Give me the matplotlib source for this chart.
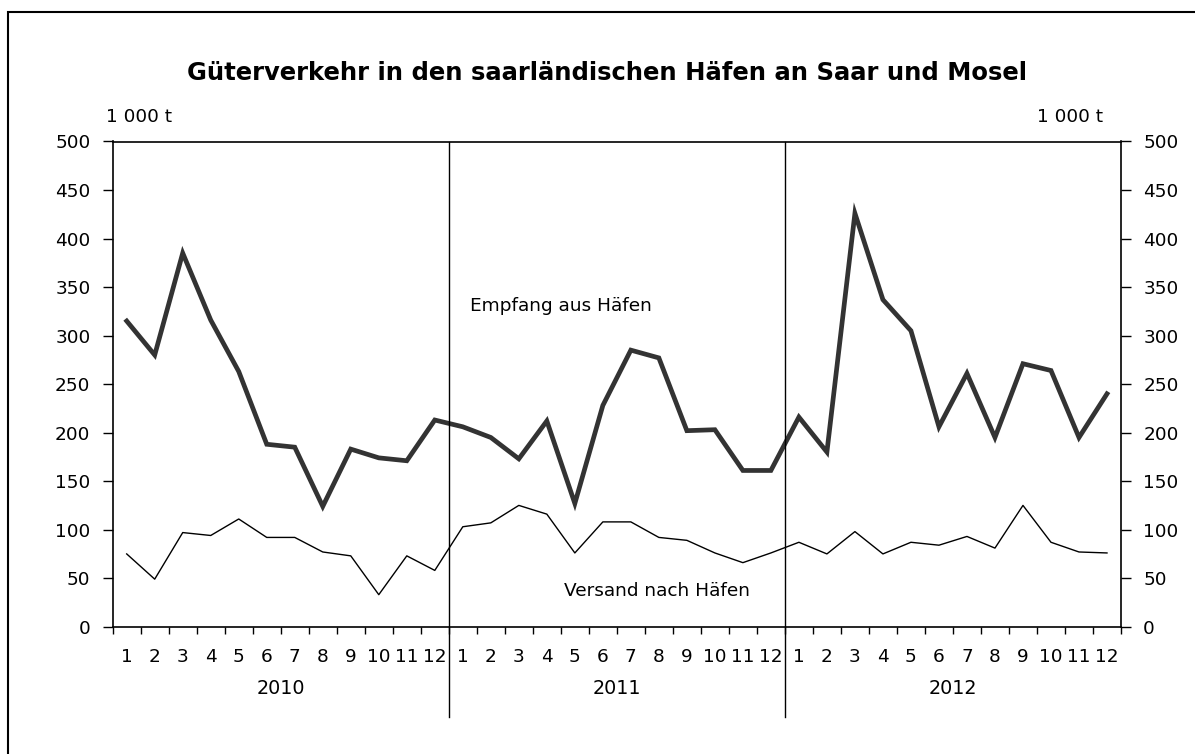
#!/usr/bin/env python
# Gueterverkehr in den saarlaendischen Haefen - monthly lines 2010-2012
import numpy as np
import matplotlib
matplotlib.use('Agg')
import matplotlib.pyplot as plt
from matplotlib.patches import Rectangle

plt.rcParams['font.family'] = ['DejaVu Sans']

years = ['2010', '2011', '2012']
months = [str(m) for m in range(1, 13)]
empfang = [315, 280, 385, 316, 263, 188, 185, 124, 183, 174, 171, 213,
           206, 195, 173, 212, 127, 228, 285, 277, 202, 203, 161, 161,
           216, 180, 426, 337, 305, 206, 261, 195, 271, 264, 195, 240]
versand = [75, 49, 97, 94, 111, 92, 92, 77, 73, 33, 73, 58,
           103, 107, 125, 116, 76, 108, 108, 92, 89, 76, 66, 76,
           87, 75, 98, 75, 87, 84, 93, 81, 125, 87, 77, 76]

W, H = 1195, 754
fs = 13.3
fig = plt.figure(figsize=(W / 100, H / 100), dpi=100)
ax = fig.add_axes([112.7 / W, 1 - 626.7 / H, (1121 - 112.7) / W, (626.7 - 141.5) / H])

x = np.arange(len(empfang)) + 0.5
ax.plot(x, empfang, color='#333333', lw=3.4, solid_joinstyle='miter')
ax.plot(x, versand, color='black', lw=1.0)

ax.set_xlim(0, 36)
ax.set_ylim(0, 500)
ax.set_yticks(np.arange(0, 501, 50))
ax.tick_params(axis='y', left=True, right=True, labelleft=True, labelright=True,
               length=7, width=1, pad=9, labelsize=fs)
# month labels as major ticks (no tick mark), boundaries as minor ticks
ax.set_xticks(x)
ax.set_xticklabels(months * 3)
ax.set_xticks(np.arange(0, 37), minor=True)
ax.tick_params(axis='x', which='major', length=0, pad=15, labelsize=fs)
ax.tick_params(axis='x', which='minor', length=5, width=1)
for s in ax.spines.values():
    s.set_linewidth(1.2)

ax_h = 626.7 - 141.5
for k, yr in enumerate(years):
    ax.text(12 * k + 6, -(689 - 626.7) / ax_h, yr, transform=ax.get_xaxis_transform(),
            ha='center', va='center', fontsize=fs + 0.5)
for xb in (12, 24):
    ax.plot([xb, xb], [1, -(716.7 - 626.7) / ax_h], transform=ax.get_xaxis_transform(),
            color='black', lw=1, clip_on=False)

ax.text(470 / W, 1 - 306 / H, 'Empfang aus Häfen', transform=fig.transFigure,
        ha='left', va='center', fontsize=fs)
ax.text(564 / W, 1 - 591 / H, 'Versand nach Häfen', transform=fig.transFigure,
        ha='left', va='center', fontsize=fs)

fig.text(607 / W, 1 - 73 / H, 'Güterverkehr in den saarländischen Häfen an Saar und Mosel',
         ha='center', va='center', fontsize=17.5, fontweight='bold')
fig.text(106 / W, 1 - 117 / H, '1 000 t', ha='left', va='center', fontsize=fs)
fig.text(1103 / W, 1 - 117 / H, '1 000 t', ha='right', va='center', fontsize=fs)

fig.patches.append(Rectangle((8 / W, -0.1), 1.2, 1.1 - 12.5 / H, transform=fig.transFigure,
                             fill=False, edgecolor='black', lw=1.5))

fig.savefig('out.png', dpi=100)
